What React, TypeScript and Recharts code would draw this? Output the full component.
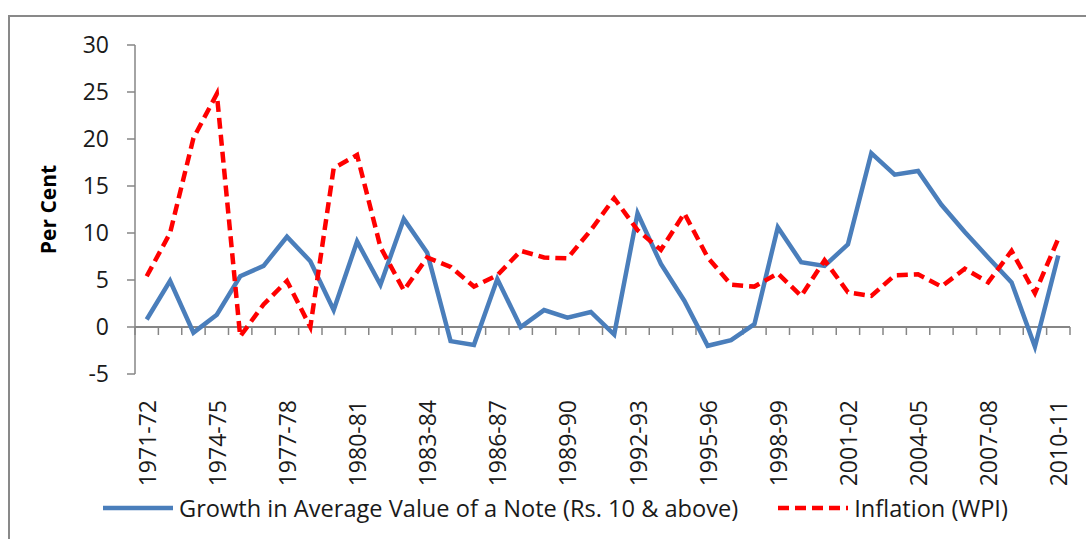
import { CartesianGrid, Line, LineChart, ReferenceLine, XAxis, YAxis } from "recharts";

const years = [
  "1971-72", "1972-73", "1973-74", "1974-75", "1975-76", "1976-77", "1977-78", "1978-79",
  "1979-80", "1980-81", "1981-82", "1982-83", "1983-84", "1984-85", "1985-86", "1986-87",
  "1987-88", "1988-89", "1989-90", "1990-91", "1991-92", "1992-93", "1993-94", "1994-95",
  "1995-96", "1996-97", "1997-98", "1998-99", "1999-00", "2000-01", "2001-02", "2002-03",
  "2003-04", "2004-05", "2005-06", "2006-07", "2007-08", "2008-09", "2009-10", "2010-11",
];

const growth = [
  0.8, 4.9, -0.6, 1.3, 5.4, 6.5, 9.6, 7.0, 1.8, 9.1,
  4.5, 11.5, 7.9, -1.5, -1.9, 5.1, 0.0, 1.8, 1.0, 1.6,
  -0.8, 12.1, 6.7, 2.8, -2.0, -1.4, 0.3, 10.6, 6.9, 6.5,
  8.8, 18.5, 16.2, 16.6, 13.0, 10.1, 7.4, 4.75, -2.1, 7.6,
];

const inflation = [
  5.4, 10.0, 20.1, 24.8, -1.0, 2.4, 4.9, 0.0, 16.9, 18.3,
  8.5, 3.9, 7.4, 6.4, 4.3, 5.5, 8.1, 7.4, 7.3, 10.3,
  13.7, 10.3, 8.2, 12.1, 7.4, 4.5, 4.3, 5.7, 3.3, 7.1,
  3.7, 3.3, 5.5, 5.6, 4.3, 6.2, 4.75, 8.1, 3.6, 9.4,
];

const yTicks = [-5, 0, 5, 10, 15, 20, 25, 30];

const BLUE = "#4a7ebb";
const RED = "#ff0000";
const AXIS = "#868686";
const FONT = "'Open Sans', sans-serif";
const HALF_BAND = 11.7; // points sit in the middle of each category slot

const data = years.map((year, i) => ({ year, growth: growth[i], inflation: inflation[i] }));

// x labels sit under the plot, rotated to read bottom-to-top
function YearTick({ x, y, payload }: any) {
  return (
    <text
      x={x}
      y={y}
      transform={`rotate(-90 ${x} ${y})`}
      textAnchor="end"
      dominantBaseline="central"
      fontFamily={FONT}
      fontSize={23}
      fill="#1a1a1a"
    >
      {payload.value}
    </text>
  );
}

// zero line with category boundary tick marks hanging below it (Excel style)
function ZeroAxis(props: any) {
  const { x1, y1, x2 } = props;
  const left = Math.min(x1, x2);
  const right = Math.max(x1, x2);
  const step = (right - left) / years.length;
  const marks = [];
  for (let i = 0; i <= years.length; i++) {
    const tx = left + step * i;
    marks.push(<line key={i} x1={tx} y1={y1} x2={tx} y2={y1 + 8} stroke={AXIS} strokeWidth={1.5} />);
  }
  return (
    <g>
      <line x1={left} y1={y1} x2={right} y2={y1} stroke={AXIS} strokeWidth={2} />
      {marks}
    </g>
  );
}

export default function App() {
  return (
    <div
      style={{
        position: "fixed",
        left: 0,
        top: 0,
        width: 1086,
        height: 539,
        overflow: "hidden",
        background: "#fff",
      }}
    >
      <div
        style={{
          position: "absolute",
          left: 8,
          top: 15,
          width: 1200,
          height: 700,
          borderTop: "2px solid #898989",
          borderLeft: "2px solid #898989",
        }}
      />
      <div style={{ position: "absolute", left: 0, top: 0 }}>
        <LineChart
          width={1086}
          height={539}
          data={data}
          margin={{ top: 45, right: 16, bottom: 45, left: 0 }}
        >
          <CartesianGrid horizontal={false} vertical={false} />
          <XAxis
            dataKey="year"
            interval={2}
            padding={{ left: HALF_BAND, right: HALF_BAND }}
            axisLine={false}
            tickLine={false}
            tickSize={0}
            tickMargin={26}
            height={120}
            tick={<YearTick />}
          />
          <YAxis
            domain={[-5, 30]}
            ticks={yTicks}
            width={135}
            stroke={AXIS}
            axisLine={{ stroke: AXIS, strokeWidth: 1.5 }}
            tickLine={{ stroke: AXIS, strokeWidth: 1.5 }}
            tickSize={8}
            tickMargin={18}
            tick={{ fontFamily: FONT, fontSize: 23, fill: "#1a1a1a" }}
            label={{
              content: ({ viewBox }: any) => (
                <text
                  x={viewBox.x + 48}
                  y={viewBox.y + viewBox.height / 2}
                  transform={`rotate(-90 ${viewBox.x + 48} ${viewBox.y + viewBox.height / 2})`}
                  textAnchor="middle"
                  dominantBaseline="central"
                  fontFamily={FONT}
                  fontWeight={700}
                  fontSize={21}
                  fill="#000"
                >
                  Per Cent
                </text>
              ),
            }}
          />
          <ReferenceLine y={0} shape={<ZeroAxis />} />
          <Line
            type="linear"
            dataKey="growth"
            name="Growth in Average Value of a Note (Rs. 10 & above)"
            stroke={BLUE}
            strokeWidth={4.5}
            dot={false}
            isAnimationActive={false}
          />
          <Line
            type="linear"
            dataKey="inflation"
            name="Inflation (WPI)"
            stroke={RED}
            strokeWidth={4.5}
            strokeDasharray="11 6"
            dot={false}
            isAnimationActive={false}
          />
        </LineChart>
      </div>
      <div
        style={{
          position: "absolute",
          top: 492,
          left: 103,
          display: "flex",
          alignItems: "center",
          fontFamily: FONT,
          fontSize: 23.6,
          color: "#1a1a1a",
          whiteSpace: "nowrap",
          lineHeight: "32px",
        }}
      >
        <svg width={72} height={8} style={{ marginRight: 4 }}>
          <line x1={0} y1={4} x2={70} y2={4} stroke={BLUE} strokeWidth={4.5} />
        </svg>
        <span>Growth in Average Value of a Note (Rs. 10 &amp; above)</span>
        <svg width={72} height={8} style={{ marginLeft: 40, marginRight: 4 }}>
          <line x1={0} y1={4} x2={70} y2={4} stroke={RED} strokeWidth={4.5} strokeDasharray="11 6" />
        </svg>
        <span>Inflation (WPI)</span>
      </div>
    </div>
  );
}
